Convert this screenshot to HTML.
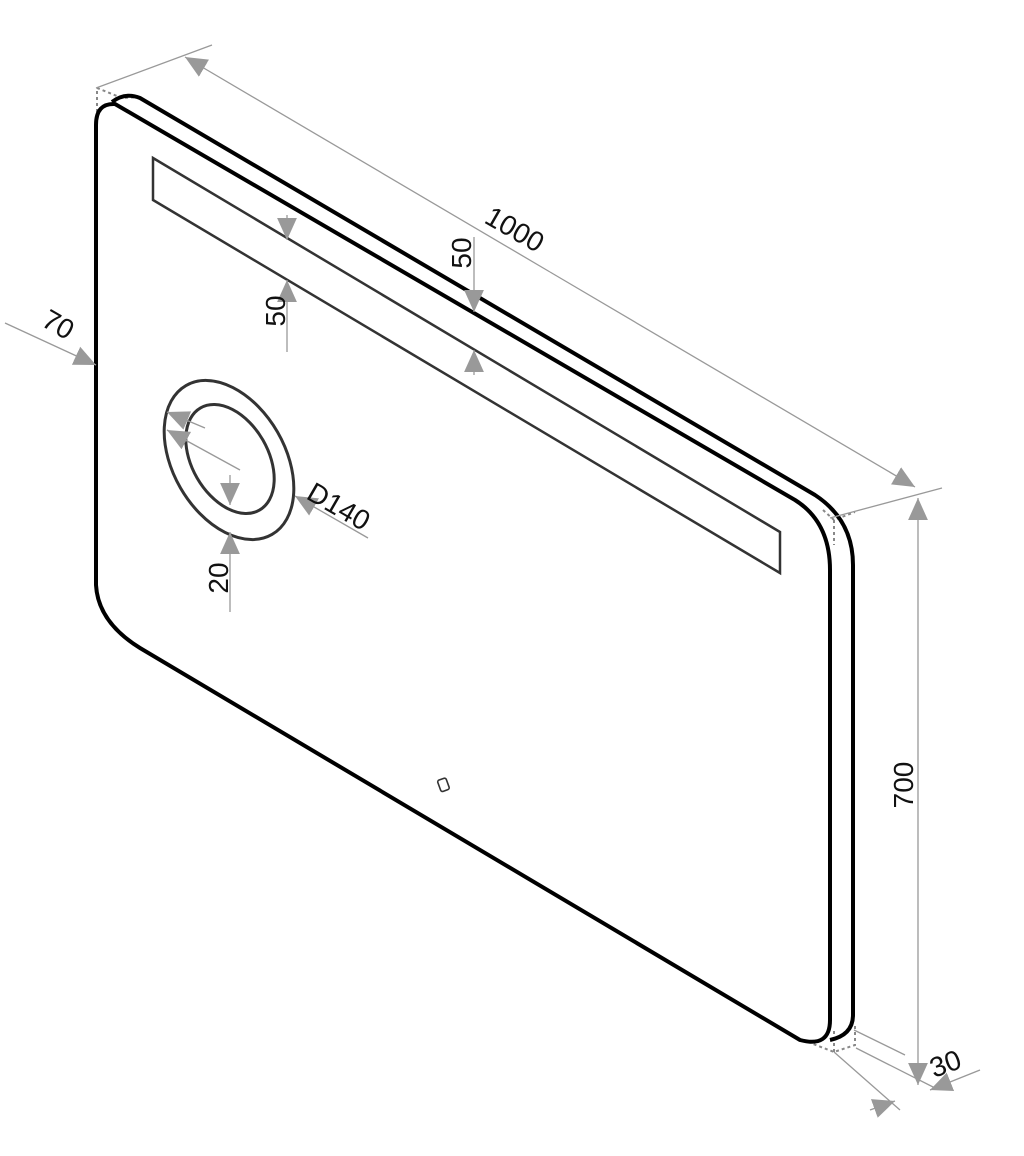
<!DOCTYPE html>
<html><head><meta charset="utf-8"><style>html,body{margin:0;padding:0;background:#fff}svg{display:block}</style></head><body>
<svg width="1024" height="1156" viewBox="0 0 1024 1156" xmlns="http://www.w3.org/2000/svg" font-family="Liberation Sans, Arial, sans-serif">
<rect width="1024" height="1156" fill="#fff"/>
<defs>
<marker id="a" viewBox="0 0 10 10" refX="10" refY="5" markerWidth="22" markerHeight="22" markerUnits="userSpaceOnUse" orient="auto"><path d="M0,0.5L10,5L0,9.5z" fill="#999"/></marker>
</defs>
<!-- dotted hidden corners -->
<g stroke="#888" stroke-width="2" stroke-dasharray="3,3" fill="none">
<path d="M97,112V88L122,98L140,97"/>
<path d="M823,510L834,520L855,512M834,520V545"/>
<path d="M808,1042L834,1052L855,1045V1025M834,1052V1030"/>
</g>
<!-- body -->
<g fill="none" stroke="#000" stroke-width="4" stroke-linejoin="round">
<path d="M112,102Q125,92 140,98L815,495Q853,520 853,565V1015Q853,1035 830,1040"/>
<path d="M96,125Q96,103 115,104L795,500Q830,522 830,570V1020Q830,1048 800,1040L140,648Q98,622 96,585Z"/>
</g>
<!-- LED strip -->
<path d="M153,158V200L780,573V532Z" fill="none" stroke="#333" stroke-width="2.5"/>
<!-- rings -->
<ellipse cx="229" cy="460" rx="56" ry="86" transform="rotate(-30 229 460)" fill="none" stroke="#333" stroke-width="3"/>
<ellipse cx="230" cy="459" rx="38" ry="59" transform="rotate(-30 230 459)" fill="none" stroke="#333" stroke-width="3"/>
<!-- button -->
<rect x="439" y="779" width="9" height="12" rx="2" transform="rotate(-20 443 785)" fill="none" stroke="#333" stroke-width="1.6"/>
<!-- dimension lines -->
<g stroke="#999" stroke-width="1.3" fill="none">
<path d="M96,88L212,45M830,518L942,488M854,1030L905,1055M834,1052L900,1110M856,1048L935,1088"/>
<path d="M550,272L185,57" marker-end="url(#a)"/>
<path d="M550,272L915,487" marker-end="url(#a)"/>
<path d="M918,790V498" marker-end="url(#a)"/>
<path d="M918,790V1085" marker-end="url(#a)"/>
<path d="M870,1110L895,1101" marker-end="url(#a)"/>
<path d="M980,1070L930,1090" marker-end="url(#a)"/>
<path d="M287,215V240" marker-end="url(#a)"/>
<path d="M287,352V280" marker-end="url(#a)"/>
<path d="M474,237V312" marker-end="url(#a)"/>
<path d="M474,375V350" marker-end="url(#a)"/>
<path d="M5,323L96,365" marker-end="url(#a)"/>
<path d="M205,428L167,412" marker-end="url(#a)"/>
<path d="M368,538L295,496" marker-end="url(#a)"/>
<path d="M240,470L167,430" marker-end="url(#a)"/>
<path d="M230,475V505" marker-end="url(#a)"/>
<path d="M230,612V532" marker-end="url(#a)"/>
</g>
<g fill="#111" font-size="28">
<text transform="translate(483,222) rotate(30)">1000</text>
<text transform="translate(913,785) rotate(-90)" text-anchor="middle">700</text>
<text transform="translate(934,1078) rotate(-20)">30</text>
<text transform="translate(285,311) rotate(-90)" text-anchor="middle">50</text>
<text transform="translate(471,253) rotate(-90)" text-anchor="middle">50</text>
<text transform="translate(40,325) rotate(30)">70</text>
<text transform="translate(305,498) rotate(30)">D140</text>
<text transform="translate(228,578) rotate(-90)" text-anchor="middle">20</text>
</g>
</svg>
</body></html>
